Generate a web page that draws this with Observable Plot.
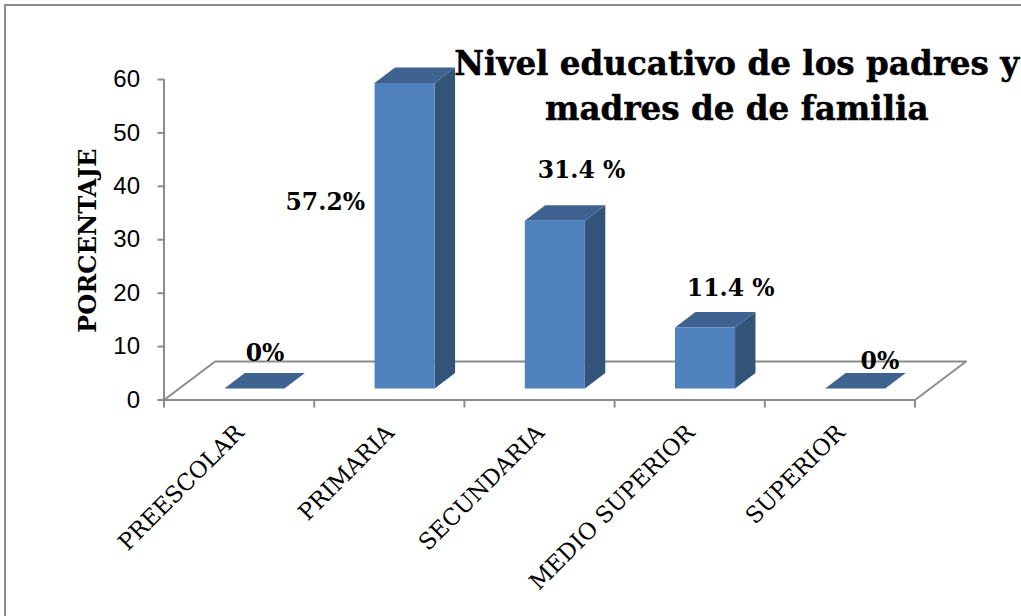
<!DOCTYPE html>
<html><head><meta charset="utf-8">
<script src="https://cdn.jsdelivr.net/npm/d3@7"></script>
<script src="https://cdn.jsdelivr.net/npm/@observablehq/plot@0.6"></script>
<style>
html,body{margin:0;padding:0;background:#fff;overflow:hidden;width:1021px;height:616px}
#frame{position:absolute;left:4px;top:4px;width:1400px;height:1000px;border:2px solid #8c8c8c}
#chart{position:absolute;left:0;top:0}
svg{display:block;background:transparent!important}
</style></head><body>
<div id="frame"></div><div id="chart"></div>
<script>
const categories = ["PREESCOLAR","PRIMARIA","SECUNDARIA","MEDIO SUPERIOR","SUPERIOR"];
const values = [0, 57.2, 31.4, 11.4, 0];
const labels = ["0%","57.2%","31.4 %","11.4 %","0%"];
const yTicks = [0,10,20,30,40,50,60];
const titleLines = ["Nivel educativo de los padres y","madres de de familia"];

// oblique projection of the depth axis, in data units
const depthX = 0.34, depthY = 7.22, barW = 0.4, z0 = 0.3, z1 = 0.7;
const P = (cx, z, v) => ({x: cx + z*depthX, y: v + z*depthY});
const colors = {front:"#4f81bd", side:"#325479", top:"#3e6391"};
const grey = "#8c8c8c";
const serif = "'DejaVu Serif'";

const faces = [];
values.forEach((v,i)=>{
  const a = i+0.5-barW/2, b = i+0.5+barW/2;
  const add = (face, pts) => pts.forEach(p => faces.push({...p, id:`${i}-${face}`, face}));
  add("top", [P(a,z0,v),P(b,z0,v),P(b,z1,v),P(a,z1,v)]);
  if (v>0) {
    add("side",[P(b,z0,0),P(b,z1,0),P(b,z1,v),P(b,z0,v)]);
    add("front",[P(a,z0,0),P(b,z0,0),P(b,z0,v),P(a,z0,v)]);
  }
});
const faceMark = f => Plot.line(faces.filter(d=>d.face===f),{x:"x",y:"y",z:"id",fill:colors[f],stroke:"none",curve:"linear-closed"});

const floor = [P(0,0,0),P(0,1,0),P(5,1,0),P(5,0,0)];

const labelDx = [26,-64,42,41,40];
const labelDy = [-47,108,-62,-51,-39];
const labelMarks = labels.map((t,i)=>Plot.text([t],{
  x:()=>i+0.5, y:()=>values[i], text:d=>d,
  dx:labelDx[i], dy:labelDy[i], fontFamily:serif, fontWeight:"bold", fontSize:23.5, fill:"#000"}));

const plot = Plot.plot({
  width:1021, height:616,
  marginLeft:163.5, marginRight:106.5, marginTop:79, marginBottom:216.5,
  x:{domain:[0,5]}, y:{domain:[0,60]},
  style:{background:"transparent"},
  marks:[
    Plot.line(floor,{x:"x",y:"y",stroke:grey,strokeWidth:2,curve:"linear"}),
    Plot.ruleY([0],{stroke:grey,strokeWidth:2}),
    Plot.ruleX([0],{stroke:grey,strokeWidth:2}),
    Plot.axisY({ticks:yTicks,tickSize:6,tickPadding:18,stroke:grey,strokeWidth:2,fill:"#000",color:"#000",
      fontSize:24,fontFamily:"'Liberation Sans'",label:null}),
    Plot.axisX({ticks:[0,1,2,3,4,5],tickSize:8,tickFormat:()=>"",stroke:grey,strokeWidth:2,label:null}),
    faceMark("side"),faceMark("top"),faceMark("front"),
    Plot.text(categories,{x:(d,i)=>i+0.5,y:()=>0,text:d=>d,rotate:-45,textAnchor:"end",dx:1,dy:29,
      fontFamily:serif,fontSize:22.8,fill:"#000"}),
    Plot.text(["PORCENTAJE"],{x:()=>0,y:()=>30,text:d=>d,rotate:-90,dx:-76,dy:1,
      fontFamily:serif,fontWeight:"bold",fontSize:24.2,fill:"#000"}),
    ...labelMarks,
    ...titleLines.map((t,i)=>Plot.text([t],{x:()=>3.82,y:()=>60,text:d=>d,dx:-1,dy:-15+i*45,
      fontFamily:serif,fontWeight:"bold",fontSize:32.6,fill:"#000",stroke:"#000",strokeWidth:0.5}))
  ]
});
document.getElementById("chart").append(plot);
</script></body></html>
